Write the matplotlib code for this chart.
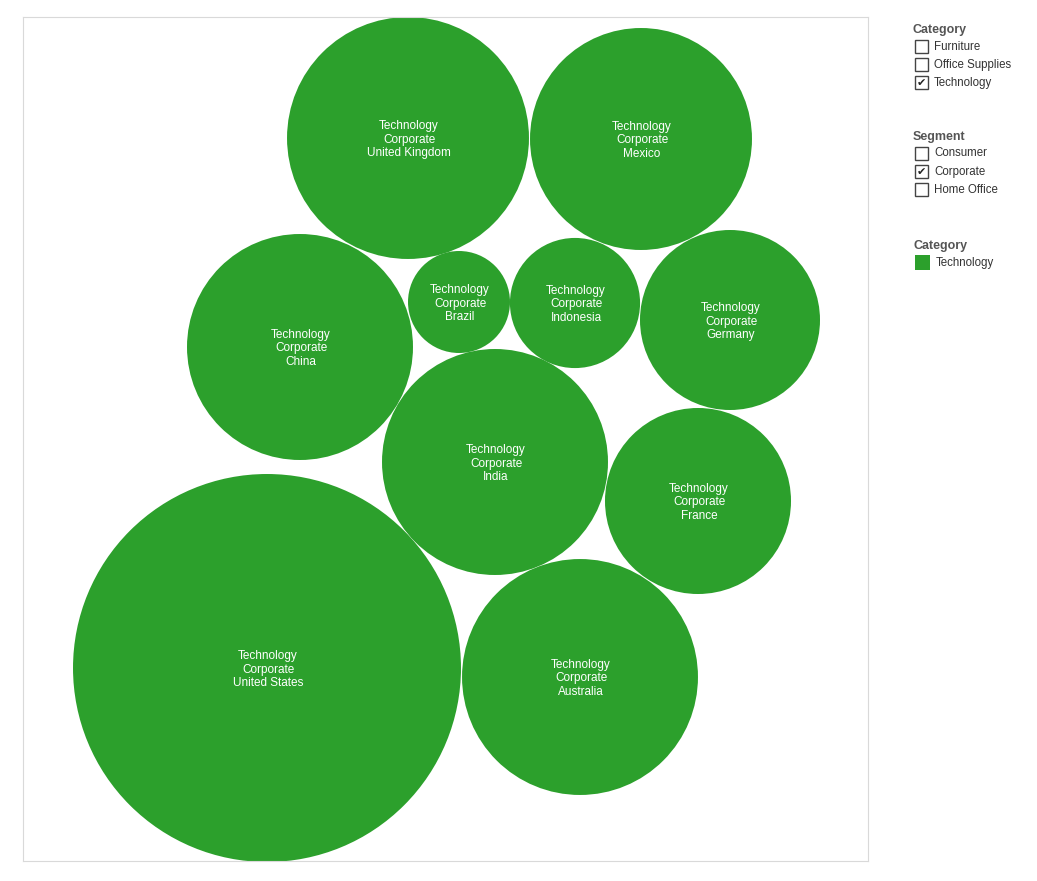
import matplotlib
matplotlib.use('Agg')
import matplotlib.pyplot as plt
from matplotlib.patches import Circle, Rectangle
import numpy as np

plt.rcParams['font.family'] = ['Liberation Sans', 'DejaVu Sans']

# packed bubbles: Technology / Corporate, sales by country
countries = ['United States', 'Australia', 'United Kingdom', 'China', 'India',
             'Mexico', 'France', 'Germany', 'Indonesia', 'Brazil']
sales = [225800, 83500, 87800, 76600, 76600, 73900, 51900, 48600, 25400, 15600]
# bubble layout (centres from the packed layout, frame units)
cx = [244, 557, 385, 277, 472, 618, 675, 707, 552, 436]
cy = [651, 660, 121, 330, 445, 122, 484, 303, 286, 285]

category = 'Technology'
segment = 'Corporate'
green = '#2ca02c'

fig = plt.figure(figsize=(10.37, 8.81), dpi=100)
W, H = 1037, 881
ax = fig.add_axes([23 / W, (H - 861) / H, 845 / W, 844 / H])
ax.set_xlim(0, 845)
ax.set_ylim(844, 0)
ax.set_xticks([])
ax.set_yticks([])
for s in ax.spines.values():
    s.set_color('#d9d9d9')
    s.set_linewidth(0.8)

for name, v, x, y in zip(countries, sales, cx, cy):
    r = np.sqrt(v / 6.0)
    ax.add_patch(Circle((x, y), r, facecolor=green, edgecolor='none'))
    ax.text(x + 1, y + 1.5, f'{category}\n{segment}\n{name}', color='white',
            ha='center', va='center', fontsize=8.5, linespacing=1.2)

# legends / filters on the right
lg = fig.add_axes([0, 0, 1, 1])
lg.set_xlim(0, W)
lg.set_ylim(H, 0)
lg.axis('off')
lg.patch.set_alpha(0)

def filter_box(title, items, checked, y0):
    lg.text(912.5, y0, title, fontsize=9, fontweight='bold', color='#555555',
            va='center', ha='left')
    for i, it in enumerate(items):
        yc = y0 + 16.5 + i * 18.2
        lg.add_patch(Rectangle((914.5, yc - 6.5), 13, 13, facecolor='white',
                               edgecolor='#444444', linewidth=1))
        if it in checked:
            lg.text(921, yc + 0.5, '✔', fontsize=8, color='#222222',
                    ha='center', va='center', family=['DejaVu Sans'])
        lg.text(934, yc, it, fontsize=8.3, color='#333333', va='center', ha='left')

filter_box('Category', ['Furniture', 'Office Supplies', 'Technology'], [category], 30)
filter_box('Segment', ['Consumer', 'Corporate', 'Home Office'], [segment], 137)

lg.text(913.5, 246, 'Category', fontsize=9, fontweight='bold', color='#555555',
        va='center', ha='left')
lg.add_patch(Rectangle((915, 255), 15, 15, facecolor=green, edgecolor='none'))
lg.text(936, 263, category, fontsize=8.3, color='#333333', va='center', ha='left')

fig.savefig('out.png', dpi=100)
